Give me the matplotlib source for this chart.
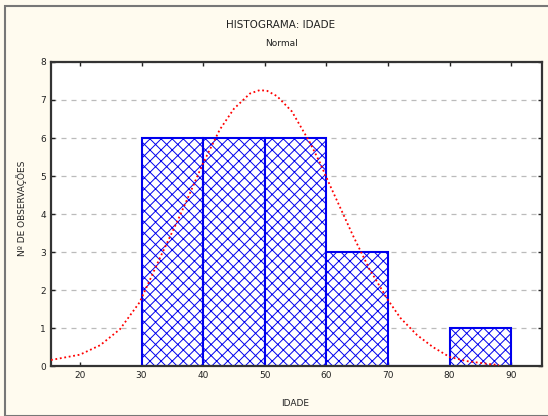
import matplotlib.pyplot as plt
from matplotlib.patches import Rectangle

# Histogram data
bin_left = [30, 40, 50, 60, 70, 80]
counts = [6, 6, 6, 3, 0, 1]
bin_width = 10

# Fitted normal curve
curve_x = [15.3, 20.0, 23.3, 26.5, 29.7, 33.0, 35.9, 38.0, 40.0, 42.7, 45.0, 47.6,
           49.2, 50.4, 52.0, 54.4, 57.3, 58.9, 60.6, 62.5, 64.3, 67.0, 70.0, 72.0,
           74.7, 77.3, 80.0, 82.8, 86.6, 88.0]
curve_y = [0.16, 0.30, 0.55, 0.97, 1.68, 2.85, 3.84, 4.6, 5.34, 6.22, 6.77, 7.17,
           7.26, 7.24, 7.10, 6.70, 5.89, 5.37, 4.75, 4.08, 3.44, 2.55, 1.74, 1.27,
           0.82, 0.50, 0.24, 0.13, 0.05, 0.03]

x_ticks = [20, 30, 40, 50, 60, 70, 80, 90]
y_ticks = [0, 1, 2, 3, 4, 5, 6, 7, 8]

bg = '#fffbef'
fig = plt.figure(figsize=(5.48, 4.16), dpi=100, facecolor=bg)
ax = fig.add_axes([0.093, 0.120, 0.896, 0.731])
ax.set_facecolor('white')

# Bars
plt.rcParams['hatch.linewidth'] = 0.7
ax.bar(bin_left, counts, width=bin_width, align='edge', facecolor='white',
       edgecolor='#0000ee', hatch='xxx', linewidth=1.5, zorder=2)

# Normal curve
ax.plot(curve_x, curve_y, color='red', linestyle=(0, (1, 1.5)), linewidth=1.3, zorder=3)

ax.set_xlim(15.3, 95)
ax.set_ylim(0, 8)
ax.set_xticks(x_ticks)
ax.set_yticks(y_ticks)
ax.yaxis.grid(True, linestyle=(0, (4, 4)), color='#bbbbbb', linewidth=0.9, zorder=1)
ax.tick_params(direction='in', length=3, width=1, labelsize=6.5,
               top=True, right=True, colors='#222222')
for s in ax.spines.values():
    s.set_color('#333333')
    s.set_linewidth(1.6)

fig.text(281 / 548, 1 - 25 / 416, 'HISTOGRAMA: IDADE', ha='center', va='center',
         fontsize=7.5, color='#222222')
fig.text(281 / 548, 1 - 44 / 416, 'Normal', ha='center', va='center',
         fontsize=6.5, color='#222222')
fig.text(22 / 548, 1 - 208 / 416, 'Nº DE OBSERVAÇÕES', ha='center', va='center',
         rotation=90, fontsize=6.5, color='#222222')
fig.text(295 / 548, 1 - 403 / 416, 'IDADE', ha='center', va='center',
         fontsize=6.5, color='#222222')

# Outer frame
fig.patches.append(Rectangle((5 / 548, 0.0), 1.2, 1 - 6 / 416, transform=fig.transFigure,
                             fill=False, edgecolor='#777777', linewidth=1.5))

fig.savefig('out.png', dpi=100, facecolor=bg)
